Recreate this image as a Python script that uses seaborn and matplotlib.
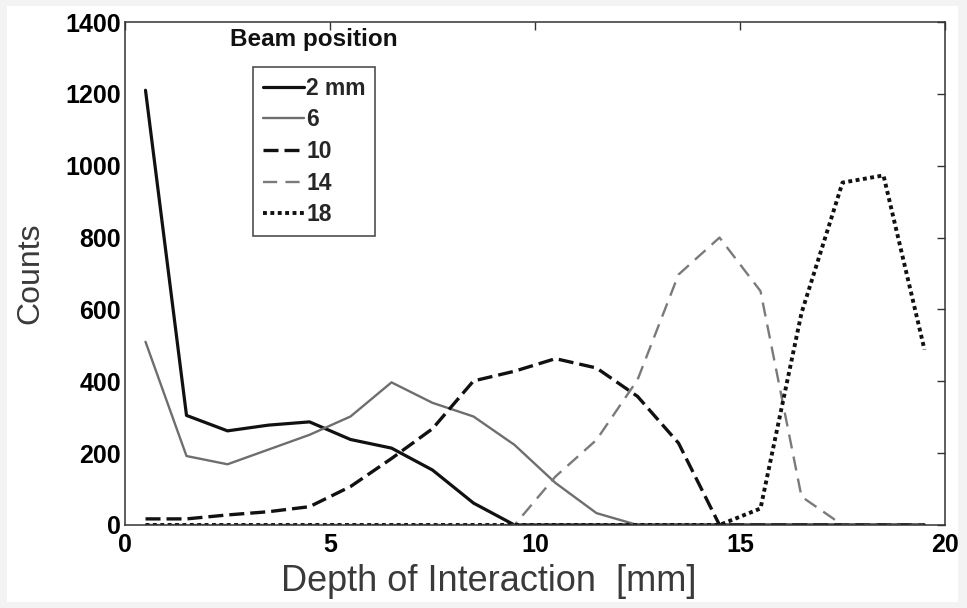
import matplotlib
matplotlib.use("Agg")
import matplotlib.pyplot as plt
import seaborn as sns
import pandas as pd
import numpy as np
from matplotlib.patches import Rectangle

# ---- data ----
depth = [0.5, 1.5, 2.5, 3.5, 4.5, 5.5, 6.5, 7.5, 8.5, 9.5,
         10.5, 11.5, 12.5, 13.5, 14.5, 15.5, 16.5, 17.5, 18.5, 19.5]
beam_labels = ["2 mm", "6", "10", "14", "18"]
counts_2 = [1210, 305, 262, 278, 287, 238, 214, 153, 61, 0,
            0, 0, 0, 0, 0, 0, 0, 0, 0, 0]
counts_6 = [510, 192, 169, 210, 251, 302, 397, 340, 302, 223,
            117, 33, 0, 0, 0, 0, 0, 0, 0, 0]
counts_10 = [17, 17, 28, 37, 51, 107, 185, 268, 401, 428,
             463, 437, 358, 228, 0, 0, 0, 0, 0, 0]
counts_14 = [0, 0, 0, 0, 0, 0, 0, 0, 0, 0,
             135, 237, 404, 697, 800, 651, 79, 0, 0, 0]
counts_18 = [0, 0, 0, 0, 0, 0, 0, 0, 0, 0,
             0, 0, 0, 0, 0, 46, 590, 953, 973, 488]
x_ticks = [0, 5, 10, 15, 20]
y_ticks = [0, 200, 400, 600, 800, 1000, 1200, 1400]

series = [counts_2, counts_6, counts_10, counts_14, counts_18]
df = pd.DataFrame({
    "depth": np.tile(depth, len(series)),
    "counts": np.concatenate(series),
    "beam": np.repeat(beam_labels, len(depth)),
})

styles = {
    "2 mm": dict(color="#111111", lw=2.3, ls="-"),
    "6":    dict(color="#6e6e6e", lw=1.7, ls="-"),
    "10":   dict(color="#111111", lw=2.4, ls=(0, (4.5, 1.8))),
    "14":   dict(color="#7a7a7a", lw=1.7, ls=(0, (6, 3.5))),
    "18":   dict(color="#111111", lw=2.8, ls=(0, (1.0, 0.9))),
}

sns.set_style("white")
plt.rcParams["font.family"] = ["Liberation Sans", "DejaVu Sans"]

fig = plt.figure(figsize=(9.67, 6.08), dpi=100, facecolor="#f3f3f3")
fig.patches.append(Rectangle((7/967, 6/608), (958-7)/967, (602-6)/608,
                             transform=fig.transFigure, facecolor="white",
                             edgecolor="none", zorder=-10))
ax = fig.add_axes([125/967, 1-525/608, 820/967, 503/608])
ax.set_zorder(5)
ax.set_facecolor("white")

for lab in beam_labels:
    st = styles[lab]
    sub = df[df["beam"] == lab]
    sns.lineplot(data=sub, x="depth", y="counts", ax=ax, color=st["color"],
                 linewidth=st["lw"], linestyle=st["ls"], label=lab,
                 clip_on=True)

ax.set_xlim(0, 20)
ax.set_ylim(0, 1400)
ax.set_xticks(x_ticks)
ax.set_yticks(y_ticks)
ax.tick_params(direction="in", length=6, width=1.0, top=True, right=True,
               colors="#333333", labelcolor="black", labelsize=18)
ax.tick_params(axis="x", pad=6)
ax.tick_params(axis="y", pad=3)
for t in ax.get_xticklabels() + ax.get_yticklabels():
    t.set_fontweight("bold")
for s in ax.spines.values():
    s.set_visible(True)
    s.set_color("#333333")
    s.set_linewidth(1.1)

ax.set_xlabel("Depth of Interaction  [mm]", fontsize=26, color="#3a3a3a",
              labelpad=6)
ax.xaxis.set_label_coords(0.444, -0.078, transform=ax.transAxes)
ax.xaxis.label.set_va("top")
ax.set_ylabel("Counts", fontsize=23, color="#3a3a3a", labelpad=14)

leg = ax.legend(loc="upper left", bbox_to_anchor=(0.156, 0.9105),
                frameon=True, fancybox=False, shadow=False, fontsize=16.5,
                handlelength=1.8, handletextpad=0.1, labelspacing=0.38,
                borderpad=0.42, borderaxespad=0.0)
leg.get_frame().set_edgecolor("#222222")
leg.get_frame().set_linewidth(1.2)
for t in leg.get_texts():
    t.set_fontweight("bold")

ax.text(4.6, 1350, "Beam position", ha="center", va="center",
        fontsize=17.5, fontweight="bold", color="#111111")

fig.savefig("out.png", dpi=100, facecolor=fig.get_facecolor())
